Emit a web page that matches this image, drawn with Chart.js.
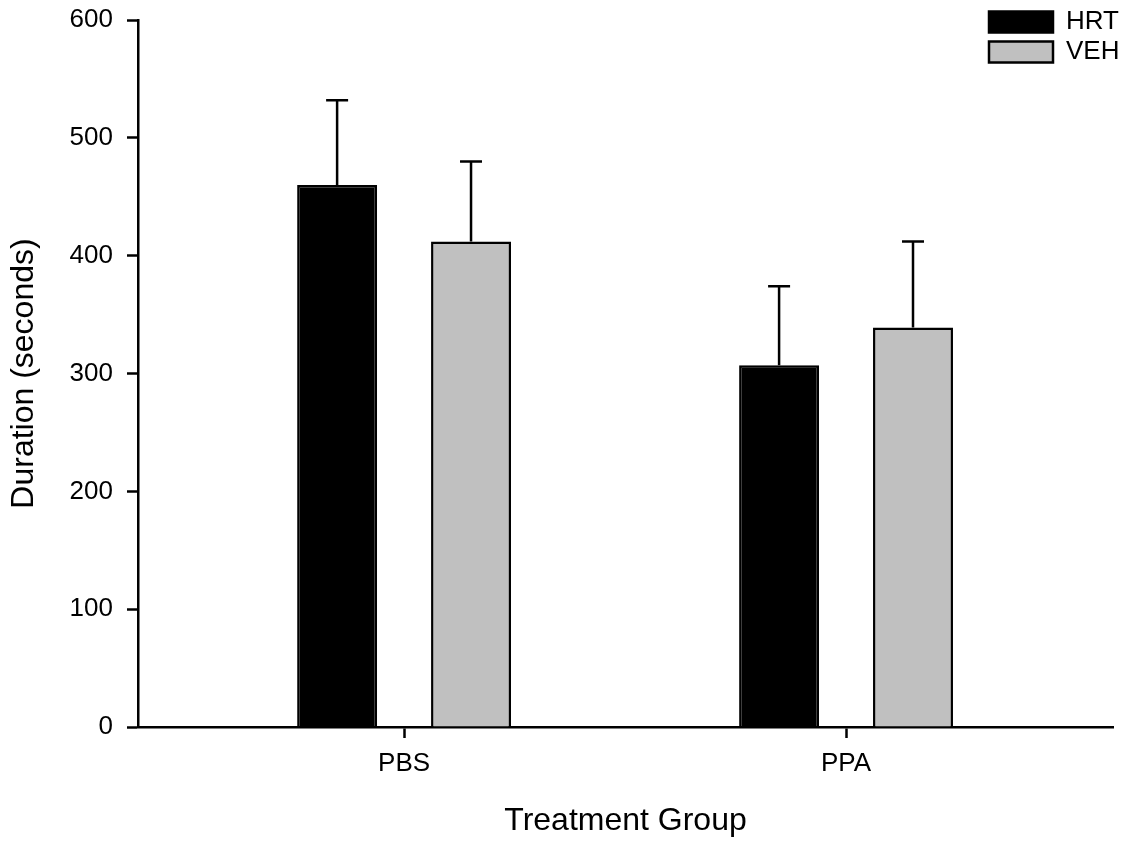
<!DOCTYPE html>
<html>
<head>
<meta charset="utf-8">
<script src="https://cdn.jsdelivr.net/npm/chart.js@4/dist/chart.umd.min.js"></script>
<style>
  body { margin: 0; background: #fff; }
</style>
</head>
<body>
<canvas id="durationChart" width="1129" height="843"></canvas>
<script>
const groups = ["PBS", "PPA"];
const groupPos = [1, 2];
const hrtMeans = [460, 307];
const hrtErr = [72, 67];
const vehMeans = [412, 339];
const vehErr = [68, 73];
const yTicks = [0, 100, 200, 300, 400, 500, 600];

const font = 'Arial, "Liberation Sans", sans-serif';

// only the upper half of the error bar, like the original figure
const errorBars = {
  id: "errorBars",
  afterDatasetsDraw(chart) {
    const ctx = chart.ctx;
    const yScale = chart.scales.y;
    chart.data.datasets.forEach((ds, i) => {
      chart.getDatasetMeta(i).data.forEach((bar, j) => {
        const top = yScale.getPixelForValue(ds.data[j].y + ds.errors[j]);
        ctx.save();
        ctx.strokeStyle = "#000";
        ctx.lineWidth = 2.5;
        ctx.beginPath();
        ctx.moveTo(bar.x, bar.y);
        ctx.lineTo(bar.x, top);
        ctx.moveTo(bar.x - 11, top);
        ctx.lineTo(bar.x + 11, top);
        ctx.stroke();
        ctx.restore();
      });
    });
  }
};

// legend sits in the top right corner, over the plot
const legendSpot = {
  id: "legendSpot",
  beforeDraw(chart) {
    const lg = chart.legend;
    lg.left = 985;
    lg.top = 5;
    lg.right = lg.left + lg.width;
    lg.bottom = lg.top + lg.height;
  }
};

new Chart(document.getElementById("durationChart"), {
  type: "bar",
  data: {
    datasets: [{
      label: "HRT",
      data: groupPos.map((x, i) => ({ x: x, y: hrtMeans[i] })),
      errors: hrtErr,
      backgroundColor: "#000000",
      borderColor: "#000000",
      borderWidth: 2.5
    }, {
      label: "VEH",
      data: groupPos.map((x, i) => ({ x: x, y: vehMeans[i] })),
      errors: vehErr,
      backgroundColor: "#c0c0c0",
      borderColor: "#000000",
      borderWidth: 2.5
    }]
  },
  options: {
    responsive: false,
    animation: false,
    categoryPercentage: 0.606,
    barPercentage: 0.597,
    layout: { padding: { left: 0, right: 16, top: 20, bottom: 0 } },
    plugins: {
      tooltip: { enabled: false },
      legend: {
        position: "chartArea",
        align: "start",
        labels: {
          boxWidth: 64,
          boxHeight: 21,
          padding: 4,
          color: "#000",
          font: { family: font, size: 26 }
        }
      }
    },
    scales: {
      x: {
        type: "linear",
        min: 0.398,
        max: 2.604,
        bounds: "data",
        offset: false,
        afterBuildTicks: axis => { axis.ticks = groupPos.map(v => ({ value: v })); },
        afterFit: axis => { axis.height = 116; },
        grid: {
          offset: false,
          drawOnChartArea: false,
          drawTicks: true,
          tickLength: 11,
          tickWidth: 2.5,
          color: "#000"
        },
        border: { display: true, color: "#000", width: 2.5 },
        ticks: {
          color: "#000",
          padding: 10,
          maxRotation: 0,
          font: { family: font, size: 26 },
          callback: v => groups[groupPos.indexOf(v)]
        },
        title: {
          display: true,
          text: "Treatment Group",
          color: "#000",
          padding: { top: 0, bottom: 3 },
          font: { family: font, size: 32 }
        }
      },
      y: {
        min: 0,
        max: 600,
        afterBuildTicks: axis => { axis.ticks = yTicks.map(v => ({ value: v })); },
        afterFit: axis => {
          axis.width = 138;
          axis.paddingTop = 0;
          axis.paddingBottom = 0;
        },
        grid: {
          drawOnChartArea: false,
          drawTicks: true,
          tickLength: 11,
          tickWidth: 2.5,
          color: "#000"
        },
        border: { display: true, color: "#000", width: 2.5 },
        ticks: {
          color: "#000",
          padding: 14,
          font: { family: font, size: 26 }
        },
        title: {
          display: true,
          text: "Duration (seconds)",
          color: "#000",
          padding: { top: 5, bottom: 0 },
          font: { family: font, size: 32 }
        }
      }
    }
  },
  plugins: [errorBars, legendSpot]
});
</script>
</body>
</html>
